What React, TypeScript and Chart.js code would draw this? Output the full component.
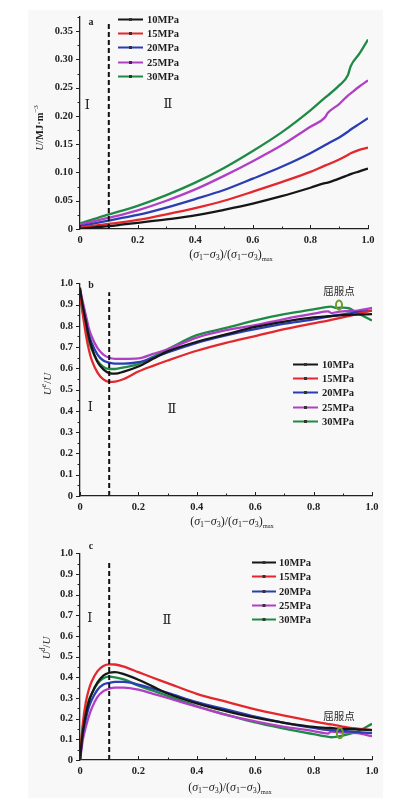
import React, { useEffect, useRef } from "react";
import { Chart, registerables } from "chart.js";
Chart.register(...registerables);

// ---------- shared ----------
const seriesLabels = ["10MPa", "15MPa", "20MPa", "25MPa", "30MPa"];
const seriesColors = ["#161616", "#e2282c", "#2b3db3", "#b13fc5", "#1f8a45"];
const dividerX = 0.1;
const yieldLabel = "屈服点";
const xTitleParts = ["(", "σ", "1", "−", "σ", "3", ")/(", "σ", "1", "−", "σ", "3", ")", "max"];

// ---------- panel a : U ----------
const xA = [0, 0.05, 0.1, 0.15, 0.2, 0.3, 0.4, 0.5, 0.6, 0.7, 0.8, 0.85, 0.86, 0.9, 0.93, 0.94, 0.97, 1.0];
const uA10 = [0.0, 0.003, 0.005, 0.008, 0.011, 0.017, 0.024, 0.034, 0.045, 0.058, 0.073, 0.081, 0.082, 0.089, 0.095, 0.097, 0.102, 0.107];
const uA15 = [0.003, 0.006, 0.009, 0.012, 0.016, 0.026, 0.037, 0.05, 0.066, 0.083, 0.101, 0.112, 0.114, 0.123, 0.131, 0.134, 0.14, 0.144];
const uA20 = [0.005, 0.01, 0.015, 0.02, 0.025, 0.038, 0.053, 0.069, 0.089, 0.11, 0.134, 0.148, 0.151, 0.162, 0.172, 0.176, 0.186, 0.196];
const uA25 = [0.008, 0.014, 0.02, 0.026, 0.033, 0.05, 0.07, 0.094, 0.12, 0.148, 0.181, 0.197, 0.205, 0.221, 0.236, 0.24, 0.252, 0.263];
const uA30 = [0.01, 0.018, 0.026, 0.033, 0.041, 0.06, 0.082, 0.108, 0.138, 0.171, 0.21, 0.232, 0.236, 0.254, 0.272, 0.288, 0.31, 0.335];
const yTicksA = [0, 0.05, 0.1, 0.15, 0.2, 0.25, 0.3, 0.35];

// ---------- panel b : Ue/U ----------
const xB = [0, 0.005, 0.01, 0.02, 0.03, 0.04, 0.06, 0.08, 0.1, 0.12, 0.15, 0.2, 0.25, 0.3, 0.4, 0.5, 0.6, 0.7, 0.8, 0.85, 0.86, 0.88, 0.9, 0.92, 0.95, 1.0];
const ueB10 = [0.98, 0.93, 0.89, 0.82, 0.75, 0.7, 0.63, 0.595, 0.578, 0.575, 0.585, 0.609, 0.645, 0.68, 0.725, 0.76, 0.795, 0.82, 0.84, 0.845, 0.846, 0.848, 0.85, 0.852, 0.853, 0.855];
const ueB15 = [0.97, 0.9, 0.85, 0.76, 0.69, 0.64, 0.58, 0.548, 0.537, 0.538, 0.55, 0.585, 0.612, 0.637, 0.683, 0.72, 0.752, 0.785, 0.812, 0.825, 0.828, 0.834, 0.84, 0.846, 0.856, 0.872];
const ueB20 = [0.95, 0.91, 0.88, 0.82, 0.76, 0.72, 0.665, 0.637, 0.627, 0.622, 0.622, 0.629, 0.65, 0.675, 0.72, 0.755, 0.784, 0.81, 0.83, 0.843, 0.846, 0.85, 0.854, 0.858, 0.864, 0.872];
const ueB25 = [0.97, 0.94, 0.91, 0.85, 0.79, 0.75, 0.695, 0.665, 0.65, 0.645, 0.645, 0.647, 0.668, 0.69, 0.745, 0.78, 0.803, 0.832, 0.857, 0.868, 0.86, 0.865, 0.868, 0.87, 0.872, 0.885];
const ueB30 = [0.96, 0.9, 0.86, 0.79, 0.73, 0.69, 0.635, 0.607, 0.597, 0.597, 0.605, 0.62, 0.655, 0.69, 0.756, 0.79, 0.826, 0.855, 0.877, 0.889, 0.89, 0.884, 0.886, 0.883, 0.86, 0.825];
const yieldPointB = [0.887, 0.898];
const yTicksB = [0, 0.1, 0.2, 0.3, 0.4, 0.5, 0.6, 0.7, 0.8, 0.9, 1.0];

// ---------- panel c : Ud/U ----------
const xC = xB;
const udC10 = [0, 0.08, 0.14, 0.22, 0.28, 0.32, 0.375, 0.408, 0.422, 0.425, 0.415, 0.388, 0.355, 0.322, 0.274, 0.237, 0.205, 0.18, 0.16, 0.155, 0.155, 0.152, 0.15, 0.15, 0.148, 0.145];
const udC15 = [0, 0.1, 0.18, 0.28, 0.34, 0.38, 0.43, 0.455, 0.463, 0.462, 0.452, 0.425, 0.398, 0.372, 0.32, 0.282, 0.245, 0.215, 0.187, 0.174, 0.172, 0.167, 0.162, 0.157, 0.152, 0.145];
const udC20 = [0, 0.07, 0.13, 0.2, 0.255, 0.29, 0.34, 0.365, 0.373, 0.378, 0.378, 0.365, 0.345, 0.325, 0.28, 0.245, 0.21, 0.18, 0.155, 0.145, 0.145, 0.142, 0.14, 0.138, 0.135, 0.13];
const udC25 = [0, 0.05, 0.1, 0.16, 0.21, 0.25, 0.305, 0.333, 0.345, 0.35, 0.35, 0.34, 0.32, 0.3, 0.258, 0.218, 0.187, 0.16, 0.14, 0.128, 0.138, 0.135, 0.133, 0.132, 0.13, 0.115];
const udC30 = [0, 0.1, 0.16, 0.23, 0.29, 0.32, 0.37, 0.395, 0.403, 0.4, 0.39, 0.36, 0.335, 0.31, 0.26, 0.22, 0.182, 0.152, 0.125, 0.112, 0.11, 0.113, 0.118, 0.125, 0.138, 0.175];
const yieldPointC = [0.89, 0.13];
const yTicksC = yTicksB;

const xTicks = [0, 0.2, 0.4, 0.6, 0.8, 1.0];

// ---------- drawing helpers ----------
const SERIF = "'Liberation Serif','Times New Roman','DejaVu Serif',serif";
const ROMAN = "'Liberation Serif','DejaVu Serif','Noto Sans CJK SC',serif";
const CJK = "'Noto Sans CJK SC','Noto Sans CJK JP',sans-serif";

type Piece = { t: string; font: string; dy?: number };

function drawPieces(ctx: CanvasRenderingContext2D, pieces: Piece[], cx: number, cy: number, rotate = false) {
  ctx.save();
  ctx.translate(cx, cy);
  if (rotate) ctx.rotate(-Math.PI / 2);
  ctx.textBaseline = "middle";
  ctx.textAlign = "left";
  let total = 0;
  const widths = pieces.map((p) => {
    ctx.font = p.font;
    const w = ctx.measureText(p.t).width;
    total += w;
    return w;
  });
  let x = -total / 2;
  pieces.forEach((p, i) => {
    ctx.font = p.font;
    ctx.fillText(p.t, x, p.dy || 0);
    x += widths[i];
  });
  ctx.restore();
}

function xTitlePieces(): Piece[] {
  const n = `12px ${SERIF}`;
  const it = `italic 12px ${SERIF}`;
  const sub = `8px ${SERIF}`;
  const subSmall = `6.5px ${SERIF}`;
  return xTitleParts.map((t) => {
    if (t === "σ") return { t, font: it };
    if (t === "1" || t === "3") return { t, font: sub, dy: 3 };
    if (t === "max") return { t, font: subSmall, dy: 4.5 };
    return { t, font: n };
  });
}

type PanelCfg = {
  height: number;
  top: number;
  right: number;
  bottom: number;
  yMax: number;
  yMinor: number;
  yTicks: number[];
  yFmt: (v: number) => string;
  xs: number[];
  series: number[][];
  dividerTop: number;
  legend: { x1: number; x2: number; tx: number; y0: number; dy: number };
  letter: { t: string; x: number; y: number };
  romans: { t: string; x: number; y: number }[];
  yTitle: { pieces: Piece[]; x: number; y: number };
  xTitle: { x: number; y: number };
  yieldPt?: number[];
  yieldText?: { x: number; y: number };
  yieldR?: number[];
};

function buildConfig(cfg: PanelCfg): any {
  const datasets: any[] = cfg.series.map((ys, i) => ({
    label: seriesLabels[i],
    data: cfg.xs.map((x, j) => ({ x, y: ys[j] })),
    borderColor: seriesColors[i],
    backgroundColor: seriesColors[i],
    borderWidth: 2.3,
    pointRadius: 0,
    cubicInterpolationMode: "monotone",
    fill: false,
    order: 1,
  }));
  datasets.push({
    label: "divider",
    data: [
      { x: dividerX, y: 0 },
      { x: dividerX, y: cfg.dividerTop },
    ],
    borderColor: "#111",
    borderWidth: 2,
    borderDash: [5, 3],
    pointRadius: 0,
    tension: 0,
    fill: false,
    order: -1,
  });

  const tickFont = { family: SERIF, size: 10.5, weight: "bold" as const };

  const annot = {
    id: "annot",
    afterDraw(chart: any) {
      const ctx: CanvasRenderingContext2D = chart.ctx;
      const xs = chart.scales.x;
      const ys = chart.scales.y;
      const area = chart.chartArea;
      ctx.save();
      // ticks
      ctx.strokeStyle = "#222";
      ctx.lineWidth = 1;
      ctx.beginPath();
      for (let k = 0; k <= 10; k++) {
        const v = k / 10;
        const px = Math.round(xs.getPixelForValue(v)) + 0.5;
        const len = k % 2 === 0 ? 4 : 2.5;
        ctx.moveTo(px, area.bottom);
        ctx.lineTo(px, area.bottom - len);
      }
      const nMinor = Math.round(cfg.yMax / cfg.yMinor);
      for (let k = 0; k <= nMinor; k++) {
        const v = k * cfg.yMinor;
        const major = cfg.yTicks.some((t) => Math.abs(t - v) < 1e-6);
        const py = Math.round(ys.getPixelForValue(v)) + 0.5;
        ctx.moveTo(area.left, py);
        ctx.lineTo(area.left - (major ? 4 : 2.5), py);
      }
      ctx.stroke();

      // legend
      const L = cfg.legend;
      cfg.series.forEach((_, i) => {
        const y = Math.round(L.y0 + i * L.dy) + 0.5;
        ctx.strokeStyle = seriesColors[i];
        ctx.lineWidth = 2;
        ctx.beginPath();
        ctx.moveTo(L.x1, y);
        ctx.lineTo(L.x2, y);
        ctx.stroke();
        ctx.fillStyle = "#333";
        ctx.fillRect((L.x1 + L.x2) / 2 - 1.5, y - 1.5, 3, 3);
        ctx.fillStyle = "#1e1e1e";
        ctx.font = `bold 10.5px ${SERIF}`;
        ctx.textAlign = "left";
        ctx.textBaseline = "middle";
        ctx.fillText(seriesLabels[i], L.tx, y + 0.5);
      });

      // panel letter
      ctx.fillStyle = "#222";
      ctx.font = `bold 10px ${SERIF}`;
      ctx.textAlign = "center";
      ctx.textBaseline = "middle";
      ctx.fillText(cfg.letter.t, cfg.letter.x, cfg.letter.y);

      // region numerals
      ctx.font = `13px ${ROMAN}`;
      cfg.romans.forEach((r) => {
        ctx.fillText(r.t, xs.getPixelForValue(r.x), ys.getPixelForValue(r.y));
      });

      // yield point
      if (cfg.yieldPt && cfg.yieldText && cfg.yieldR) {
        const px = xs.getPixelForValue(cfg.yieldPt[0]);
        const py = ys.getPixelForValue(cfg.yieldPt[1]);
        ctx.strokeStyle = "#6e9a2c";
        ctx.lineWidth = 2;
        ctx.beginPath();
        ctx.ellipse(px, py, cfg.yieldR[0], cfg.yieldR[1], 0, 0, Math.PI * 2);
        ctx.stroke();
        ctx.fillStyle = "#2a2a2a";
        ctx.font = `10.5px ${CJK}`;
        ctx.fillText(yieldLabel, cfg.yieldText.x, cfg.yieldText.y);
      }

      // titles
      ctx.fillStyle = "#1e1e1e";
      drawPieces(ctx, xTitlePieces(), cfg.xTitle.x, cfg.xTitle.y);
      drawPieces(ctx, cfg.yTitle.pieces, cfg.yTitle.x, cfg.yTitle.y, true);
      ctx.restore();
    },
  };

  return {
    type: "line",
    data: { datasets },
    plugins: [annot],
    options: {
      responsive: false,
      animation: false,
      events: [],
      layout: { padding: { left: 0, right: 396 - cfg.right, top: cfg.top, bottom: 0 } },
      plugins: { legend: { display: false }, tooltip: { enabled: false }, title: { display: false } },
      scales: {
        x: {
          type: "linear",
          min: 0,
          max: 1,
          border: { display: true, color: "#222", width: 1.3 },
          grid: { display: false, drawTicks: false },
          afterBuildTicks: (s: any) => {
            s.ticks = xTicks.map((v) => ({ value: v }));
          },
          ticks: {
            padding: 5,
            color: "#222",
            font: tickFont,
            autoSkip: false,
            maxRotation: 0,
            callback: (v: any) => (Number(v) === 0 ? "0" : Number(v).toFixed(1)),
          },
          afterFit: (s: any) => {
            s.height = cfg.height - cfg.bottom;
          },
        },
        y: {
          type: "linear",
          min: 0,
          max: cfg.yMax,
          border: { display: true, color: "#222", width: 1.3 },
          grid: { display: false, drawTicks: false },
          afterBuildTicks: (s: any) => {
            s.ticks = cfg.yTicks.map((v) => ({ value: v }));
          },
          ticks: {
            padding: 7,
            color: "#222",
            font: tickFont,
            autoSkip: false,
            callback: (v: any) => cfg.yFmt(Number(v)),
          },
          afterFit: (s: any) => {
            s.width = 80;
          },
        },
      },
    },
  };
}

function Panel({ cfg, top }: { cfg: PanelCfg; top: number }) {
  const ref = useRef<HTMLCanvasElement>(null);
  useEffect(() => {
    const chart = new Chart(ref.current as HTMLCanvasElement, buildConfig(cfg));
    return () => chart.destroy();
  }, []);
  return (
    <canvas
      ref={ref}
      width={396}
      height={cfg.height}
      style={{ position: "absolute", left: 0, top, width: 396, height: cfg.height, display: "block" }}
    />
  );
}

const fmt2 = (v: number) => (v === 0 ? "0" : v.toFixed(2));
const fmt1 = (v: number) => (v === 0 ? "0" : v.toFixed(1));

const panelA: PanelCfg = {
  height: 270,
  top: 17,
  right: 368,
  bottom: 229,
  yMax: 0.375,
  yMinor: 0.025,
  yTicks: yTicksA,
  yFmt: fmt2,
  xs: xA,
  series: [uA10, uA15, uA20, uA25, uA30],
  dividerTop: 0.364,
  legend: { x1: 118, x2: 143, tx: 147, y0: 19, dy: 14.2 },
  letter: { t: "a", x: 91, y: 22 },
  romans: [
    { t: "Ⅰ", x: 0.025, y: 0.218 },
    { t: "Ⅱ", x: 0.305, y: 0.22 },
  ],
  yTitle: {
    pieces: [
      { t: "U", font: `italic 11px ${SERIF}` },
      { t: "/MJ·m", font: `bold 10.5px ${SERIF}` },
      { t: "−3", font: `7px ${SERIF}`, dy: -4 },
    ],
    x: 40,
    y: 128,
  },
  xTitle: { x: 231, y: 255 },
};

const panelB: PanelCfg = {
  height: 270,
  top: 11,
  right: 372,
  bottom: 226,
  yMax: 1.0,
  yMinor: 0.05,
  yTicks: yTicksB,
  yFmt: fmt1,
  xs: xB,
  series: [ueB10, ueB15, ueB20, ueB25, ueB30],
  dividerTop: 0.958,
  legend: { x1: 293, x2: 318, tx: 322, y0: 94, dy: 14.2 },
  letter: { t: "b", x: 91, y: 15 },
  romans: [
    { t: "Ⅰ", x: 0.035, y: 0.414 },
    { t: "Ⅱ", x: 0.315, y: 0.405 },
  ],
  yTitle: {
    pieces: [
      { t: "U", font: `italic 11px ${SERIF}` },
      { t: "e", font: `italic 7.5px ${SERIF}`, dy: -4 },
      { t: "/", font: `11px ${SERIF}` },
      { t: "U", font: `italic 11px ${SERIF}` },
    ],
    x: 48,
    y: 114,
  },
  xTitle: { x: 232, y: 252 },
  yieldPt: yieldPointB,
  yieldText: { x: 339, y: 21 },
  yieldR: [3, 4.5],
};

const panelC: PanelCfg = {
  height: 263,
  top: 5,
  right: 372,
  bottom: 220,
  yMax: 1.0,
  yMinor: 0.05,
  yTicks: yTicksC,
  yFmt: fmt1,
  xs: xC,
  series: [udC10, udC15, udC20, udC25, udC30],
  dividerTop: 0.953,
  legend: { x1: 252, x2: 276, tx: 279, y0: 22, dy: 14.3 },
  letter: { t: "c", x: 91, y: 6 },
  romans: [
    { t: "Ⅰ", x: 0.034, y: 0.684 },
    { t: "Ⅱ", x: 0.298, y: 0.674 },
  ],
  yTitle: {
    pieces: [
      { t: "U", font: `italic 11px ${SERIF}` },
      { t: "d", font: `italic 7.5px ${SERIF}`, dy: -4 },
      { t: "/", font: `11px ${SERIF}` },
      { t: "U", font: `italic 11px ${SERIF}` },
    ],
    x: 47,
    y: 108,
  },
  xTitle: { x: 230, y: 248 },
  yieldPt: yieldPointC,
  yieldText: { x: 339, y: 176 },
  yieldR: [3, 5],
};

export default function App() {
  return (
    <div style={{ position: "absolute", left: 0, top: 0, width: 396, height: 803, background: "#ffffff", overflow: "hidden" }}>
      <div style={{ position: "absolute", left: 28, top: 10, width: 355, height: 788, background: "#f8f8f8" }} />
      <Panel cfg={panelA} top={0} />
      <Panel cfg={panelB} top={270} />
      <Panel cfg={panelC} top={540} />
    </div>
  );
}
